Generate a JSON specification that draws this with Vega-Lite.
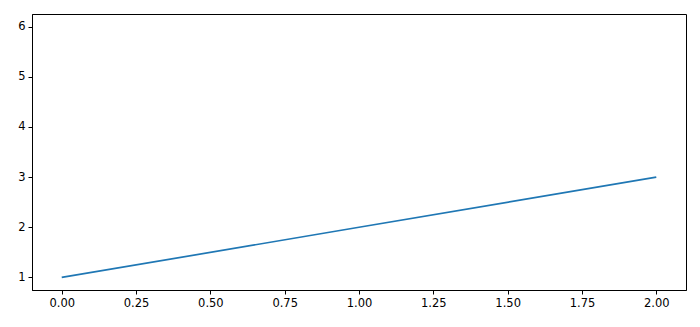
{
  "$schema": "https://vega.github.io/schema/vega-lite/v6.json",
  "width": 654,
  "height": 276,
  "autosize": {"type": "none"},
  "padding": {"left": 32, "top": 14, "right": 14, "bottom": 37},
  "background": "white",
  "config": {
    "view": {"stroke": "black", "strokeWidth": 1},
    "axis": {
      "grid": false,
      "domainColor": "black",
      "domainWidth": 1,
      "tickColor": "black",
      "tickWidth": 1,
      "tickSize": 4,
      "labelFont": "DejaVu Sans",
      "labelFontSize": 11.5,
      "labelColor": "black",
      "labelPadding": 3,
      "title": null
    }
  },
  "data": {"values": [
    {"x": 0, "y": 1},
    {"x": 1, "y": 2},
    {"x": 2, "y": 3}
  ]},
  "mark": {"type": "line", "color": "#1f77b4", "strokeWidth": 1.7},
  "encoding": {
    "x": {
      "field": "x", "type": "quantitative",
      "scale": {"domain": [-0.1, 2.1], "nice": false, "zero": false},
      "axis": {"values": [0, 0.25, 0.5, 0.75, 1, 1.25, 1.5, 1.75, 2], "format": ".2f", "labelFlush": false}
    },
    "y": {
      "field": "y", "type": "quantitative",
      "scale": {"domain": [0.75, 6.25], "nice": false, "zero": false},
      "axis": {"values": [1, 2, 3, 4, 5, 6], "format": "d"}
    }
  }
}
